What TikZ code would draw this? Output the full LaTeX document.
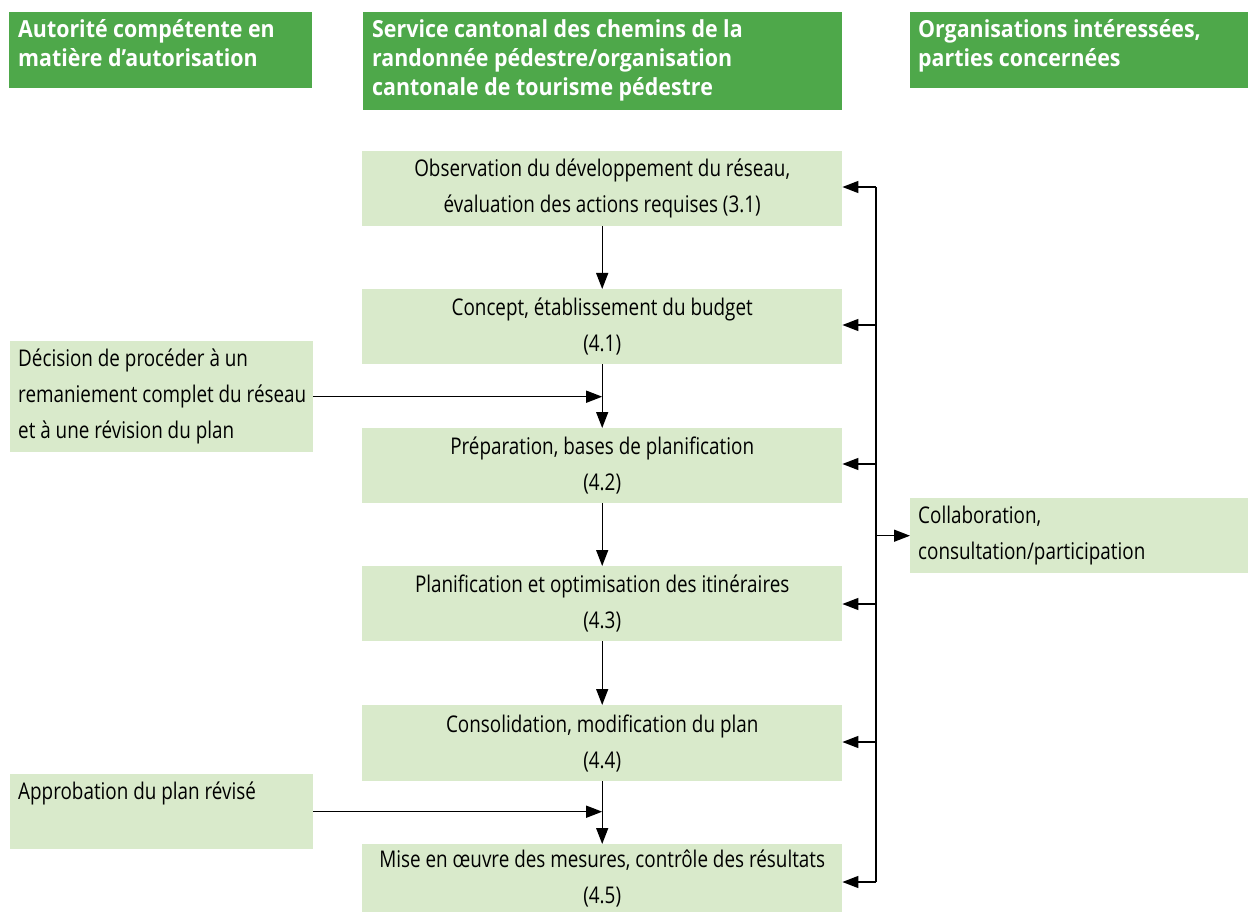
\documentclass[tikz,border=0pt]{standalone}
\usepackage{fontspec}
\setmainfont[FakeStretch=0.82]{Open Sans}
\newfontfamily\hdrfont[FakeStretch=0.91]{Open Sans}
\usetikzlibrary{arrows.meta,calc}
\definecolor{hdrgreen}{RGB}{78,168,74}
\definecolor{boxgreen}{RGB}{217,234,203}
\begin{document}
\begin{tikzpicture}[x=1pt,y=-1pt,
  hdr/.style={fill=hdrgreen, draw=none, inner sep=0pt, anchor=north west},
  box/.style={fill=boxgreen, draw=none, inner sep=0pt, anchor=north west},
  hdrtxt/.style={text=white, font=\hdrfont\fontsize{23.5}{29}\selectfont\bfseries, align=left, anchor=north west, inner sep=0pt},
  bodytxt/.style={font=\fontsize{23}{36}\selectfont},
  lefttxt/.style={bodytxt, align=left, anchor=north west, inner sep=0pt},
  arr/.style={-{Triangle[length=16pt,width=12pt]}, line width=1.4pt},
  spine/.style={line width=1.4pt},
]
\useasboundingbox (0,0) rectangle (1248,912);

% headers
\node[hdr, minimum width=303pt, minimum height=76pt] (h1) at (9,12) {};
\node[hdr, minimum width=479pt, minimum height=98pt] (h2) at (363,12) {};
\node[hdr, minimum width=338pt, minimum height=76pt] (h3) at (910,12) {};
\node[hdrtxt] at ($(h1.north west)+(9,7)$) {Autorité compétente en\\matière d’autorisation};
\node[hdrtxt] at ($(h2.north west)+(9,7)$) {Service cantonal des chemins de la\\randonnée pédestre/organisation\\cantonale de tourisme pédestre};
\node[hdrtxt] at ($(h3.north west)+(8,7)$) {Organisations intéressées,\\parties concernées};

% main column
\node[box, bodytxt, align=center, minimum width=480pt, minimum height=75pt] (b1) at (362,151) {Observation du développement du réseau,\\évaluation des actions requises (3.1)};
\node[box, bodytxt, align=center, minimum width=480pt, minimum height=75pt] (b2) at (362,289) {Concept, établissement du budget\\(4.1)};
\node[box, bodytxt, align=center, minimum width=480pt, minimum height=75pt] (b3) at (362,428) {Préparation, bases de planification\\(4.2)};
\node[box, bodytxt, align=center, minimum width=480pt, minimum height=75pt] (b4) at (362,566) {Planification et optimisation des itinéraires\\(4.3)};
\node[box, bodytxt, align=center, minimum width=480pt, minimum height=76pt] (b5) at (362,705) {Consolidation, modification du plan\\(4.4)};
\node[box, bodytxt, align=center, minimum width=480pt, minimum height=68pt] (b6) at (362,844) {Mise en œuvre des mesures, contrôle des résultats\\(4.5)};

% left column
\node[box, minimum width=303pt, minimum height=111pt] (l1) at (10,341) {};
\node[lefttxt] at ($(l1.north west)+(8,8)$) {Décision de procéder à un\\remaniement complet du réseau\\et à une révision du plan};
\node[box, minimum width=303pt, minimum height=75pt] (l2) at (10,774) {};
\node[lefttxt] at ($(l2.north west)+(8,8)$) {Approbation du plan révisé};

% right box
\node[box, minimum width=338pt, minimum height=75pt] (c) at (910,498) {};
\node[lefttxt] at ($(c.north west)+(8,8)$) {Collaboration,\\consultation/participation};

% vertical flow
\draw[arr] (b1) -- (b2);
\draw[arr] (b2) -- (b3);
\draw[arr] (b3) -- (b4);
\draw[arr] (b4) -- (b5);
\draw[arr] (b5) -- (b6);
\draw[arr] (l1.east) -- (l1.east -| b2.south);
\draw[arr] (l2.east) -- (l2.east -| b5.south);

% right spine
\coordinate (s1) at (876,187);
\coordinate (s2) at (876,325);
\coordinate (s3) at (876,464);
\coordinate (s4) at (876,604);
\coordinate (s5) at (876,742);
\coordinate (s6) at (876,882);
\draw[spine] (s1) -- (s6);
\draw[arr] (s1) -- (s1 -| b1.east);
\draw[arr] (s2) -- (s2 -| b2.east);
\draw[arr] (s3) -- (s3 -| b3.east);
\draw[arr] (s4) -- (s4 -| b4.east);
\draw[arr] (s5) -- (s5 -| b5.east);
\draw[arr] (s6) -- (s6 -| b6.east);
\draw[arr] (s1 |- c.west) -- (c.west);
\end{tikzpicture}
\end{document}
